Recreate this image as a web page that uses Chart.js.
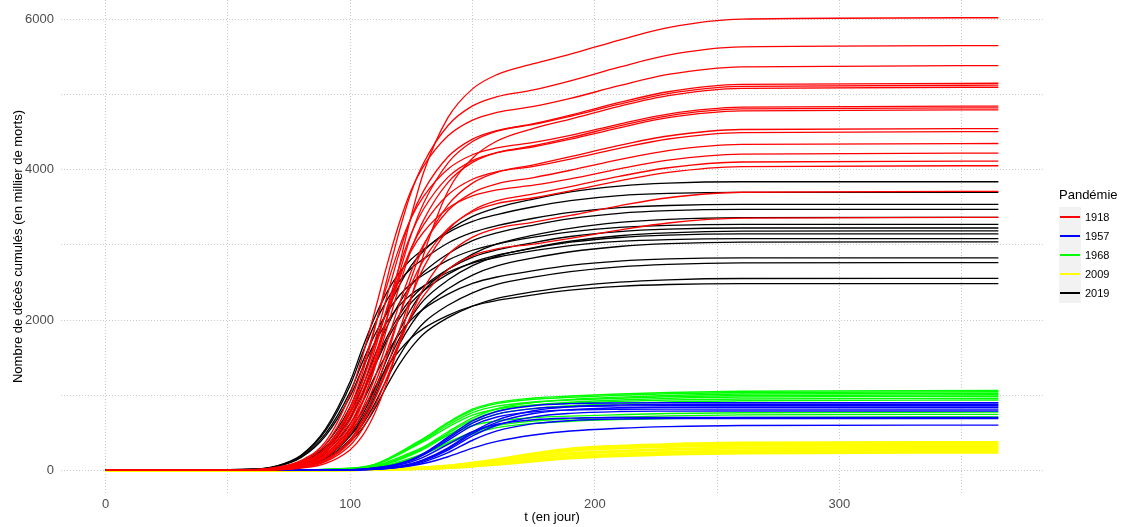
<!DOCTYPE html>
<html lang="fr">
<head>
<meta charset="utf-8">
<title>Nombre de décès cumulés par pandémie</title>
<script src="https://cdn.jsdelivr.net/npm/chart.js@4.4.1/dist/chart.umd.min.js"></script>
<style>
  html, body { margin: 0; padding: 0; background: #ffffff; }
  #wrap { position: relative; width: 1123px; height: 527px; font-family: 'Liberation Sans', Arial, sans-serif; }
  #chart { position: absolute; left: 0; top: 0; }
  #legend { position: absolute; left: 1059px; top: 186px; }
  #legend .title { font-size: 13px; line-height: 18px; height: 21px; color: #000; }
  #legend .row { display: flex; align-items: center; height: 19.2px; }
  #legend .key { width: 22px; height: 19.2px; background: #f2f2f2; position: relative; }
  #legend .key i { position: absolute; left: 1px; right: 1px; top: 8.6px; height: 2px; }
  #legend .lab { margin-left: 4px; font-size: 11px; color: #000; }
</style>
</head>
<body>
<div id="wrap">
  <canvas id="chart" width="1123" height="527"></canvas>
  <div id="legend"></div>
</div>
<script>
// Sampling days shared by every simulated trajectory
const DAYS = [0, 60, 70, 80, 90, 100, 105, 110, 115, 120, 125, 130, 140, 150, 160, 175, 190, 210, 230, 260, 365];

// Cumulative deaths (thousands), one row per simulated run
const DEATHS_1918 = [
  [0, 3, 16, 65, 190, 543, 896, 1385, 2009, 2715, 3394, 3964, 4697, 5077, 5267, 5412, 5538, 5727, 5893, 6006, 6024],
  [0, 7, 30, 104, 301, 838, 1295, 1880, 2540, 3175, 3708, 4090, 4590, 4850, 4973, 5063, 5184, 5366, 5526, 5635, 5652],
  [0, 9, 41, 134, 385, 1019, 1516, 2110, 2728, 3286, 3735, 4050, 4452, 4661, 4764, 4843, 4950, 5119, 5269, 5371, 5387],
  [0, 4, 19, 73, 218, 615, 974, 1450, 2018, 2610, 3144, 3555, 4093, 4376, 4515, 4613, 4728, 4896, 5039, 5137, 5152],
  [0, 5, 28, 94, 274, 762, 1178, 1709, 2310, 2888, 3373, 3720, 4173, 4408, 4522, 4604, 4712, 4873, 5015, 5111, 5126],
  [0, 1, 5, 28, 92, 275, 459, 757, 1170, 1698, 2295, 2869, 3718, 4154, 4383, 4552, 4674, 4845, 4987, 5084, 5099],
  [0, 8, 37, 121, 347, 918, 1366, 1901, 2458, 2961, 3365, 3646, 4011, 4200, 4292, 4364, 4458, 4609, 4742, 4833, 4847],
  [0, 4, 19, 68, 204, 576, 912, 1358, 1890, 2444, 2944, 3330, 3833, 4098, 4228, 4320, 4428, 4585, 4719, 4810, 4824],
  [0, 5, 26, 89, 255, 713, 1102, 1598, 2160, 2700, 3154, 3478, 3902, 4122, 4229, 4306, 4407, 4559, 4693, 4784, 4798],
  [0, 2, 10, 45, 142, 410, 677, 1046, 1517, 2050, 2563, 2982, 3534, 3823, 3966, 4066, 4174, 4325, 4450, 4536, 4549],
  [0, 5, 24, 83, 240, 670, 1035, 1502, 2030, 2538, 2964, 3268, 3667, 3874, 3974, 4046, 4142, 4285, 4410, 4496, 4509],
  [0, 4, 17, 61, 184, 519, 823, 1225, 1705, 2205, 2656, 3005, 3458, 3697, 3814, 3897, 3994, 4135, 4255, 4337, 4350],
  [0, 7, 32, 105, 302, 798, 1188, 1653, 2138, 2575, 2926, 3172, 3489, 3652, 3732, 3795, 3878, 4011, 4129, 4209, 4222],
  [0, 2, 9, 40, 128, 371, 612, 946, 1373, 1855, 2319, 2698, 3198, 3458, 3588, 3678, 3776, 3913, 4027, 4104, 4116],
  [0, 3, 15, 57, 171, 484, 767, 1141, 1588, 2053, 2473, 2797, 3220, 3442, 3551, 3628, 3720, 3852, 3965, 4042, 4054],
  [0, 2, 8, 37, 116, 333, 549, 849, 1232, 1665, 2081, 2421, 2870, 3104, 3221, 3303, 3393, 3521, 3628, 3701, 3712],
  [0, 2, 13, 47, 142, 401, 636, 947, 1318, 1704, 2053, 2323, 2674, 2858, 2948, 3012, 3088, 3198, 3292, 3356, 3366]
];

const DEATHS_1957 = [
  [0, 0, 0, 1, 3, 9, 16, 32, 54, 90, 144, 225, 441, 657, 783, 860, 887, 897, 900, 900, 900],
  [0, 0, 0, 0, 2, 5, 10, 18, 31, 53, 88, 141, 299, 510, 669, 792, 845, 871, 878, 880, 880],
  [0, 0, 0, 1, 3, 9, 15, 30, 52, 86, 138, 215, 421, 628, 748, 821, 847, 857, 860, 860, 860],
  [0, 0, 0, 0, 2, 5, 9, 17, 29, 50, 84, 134, 286, 487, 638, 756, 806, 832, 838, 840, 840],
  [0, 0, 0, 1, 2, 8, 15, 29, 49, 82, 130, 204, 399, 595, 709, 778, 803, 813, 815, 815, 815],
  [0, 0, 0, 0, 2, 5, 9, 16, 28, 47, 79, 126, 269, 458, 600, 711, 758, 782, 788, 790, 790],
  [0, 0, 0, 1, 2, 7, 13, 25, 42, 71, 113, 176, 345, 515, 613, 673, 694, 703, 705, 705, 705],
  [0, 0, 0, 0, 1, 4, 8, 14, 24, 41, 69, 110, 235, 400, 524, 621, 662, 683, 689, 690, 690],
  [0, 0, 0, 0, 1, 4, 7, 13, 24, 39, 60, 90, 181, 295, 385, 470, 524, 560, 581, 596, 602]
];

const DEATHS_1968 = [
  [0, 0, 1, 4, 11, 27, 43, 80, 149, 234, 330, 425, 638, 813, 904, 962, 989, 1015, 1036, 1052, 1063],
  [0, 0, 1, 4, 10, 26, 42, 78, 146, 230, 324, 418, 627, 799, 888, 946, 972, 998, 1019, 1035, 1045],
  [0, 0, 1, 3, 7, 17, 29, 51, 92, 154, 226, 308, 513, 697, 820, 902, 943, 974, 996, 1015, 1025],
  [0, 0, 1, 4, 10, 25, 40, 75, 141, 221, 312, 402, 603, 769, 854, 910, 935, 960, 980, 995, 1005],
  [0, 0, 1, 3, 7, 17, 28, 49, 89, 148, 217, 296, 493, 670, 788, 867, 906, 936, 957, 975, 985],
  [0, 0, 1, 4, 10, 24, 38, 72, 134, 211, 298, 384, 576, 734, 816, 869, 893, 917, 936, 950, 960],
  [0, 0, 1, 3, 7, 16, 26, 47, 84, 140, 206, 281, 468, 636, 748, 823, 860, 888, 909, 926, 935],
  [0, 0, 1, 3, 8, 19, 31, 58, 109, 171, 240, 310, 465, 593, 659, 701, 721, 740, 756, 767, 775],
  [0, 0, 1, 2, 5, 13, 21, 37, 67, 112, 164, 224, 373, 507, 596, 656, 685, 708, 724, 738, 745],
  [0, 0, 1, 2, 5, 12, 20, 36, 64, 107, 156, 213, 355, 483, 568, 625, 653, 675, 690, 703, 710]
];

const DEATHS_2009 = [
  [0, 0, 0, 1, 3, 7, 9, 13, 18, 24, 32, 41, 64, 102, 147, 226, 290, 327, 350, 368, 376],
  [0, 0, 0, 1, 3, 6, 9, 12, 17, 23, 30, 39, 61, 96, 139, 214, 274, 310, 331, 349, 356],
  [0, 0, 0, 1, 3, 6, 8, 12, 16, 22, 29, 37, 57, 91, 131, 202, 259, 292, 312, 329, 336],
  [0, 0, 0, 1, 2, 4, 5, 8, 10, 14, 19, 25, 41, 66, 101, 158, 212, 253, 281, 303, 316],
  [0, 0, 0, 1, 2, 5, 7, 10, 14, 19, 25, 33, 50, 80, 115, 178, 228, 258, 275, 290, 296],
  [0, 0, 0, 1, 1, 3, 5, 7, 9, 12, 17, 22, 36, 58, 88, 138, 185, 221, 246, 265, 276],
  [0, 0, 0, 1, 1, 3, 4, 6, 8, 12, 15, 20, 33, 54, 82, 128, 172, 205, 228, 246, 256],
  [0, 0, 0, 0, 1, 3, 4, 6, 8, 11, 14, 19, 31, 49, 75, 118, 157, 188, 209, 226, 235]
];

const DEATHS_2019 = [
  [0, 8, 31, 115, 346, 845, 1229, 1690, 2113, 2458, 2727, 2919, 3188, 3380, 3495, 3611, 3707, 3783, 3822, 3841, 3841],
  [0, 15, 59, 204, 555, 1184, 1628, 2035, 2368, 2627, 2812, 2942, 3164, 3312, 3404, 3508, 3589, 3656, 3685, 3700, 3700],
  [0, 14, 57, 195, 531, 1132, 1557, 1946, 2265, 2513, 2690, 2814, 3026, 3167, 3256, 3355, 3433, 3497, 3525, 3539, 3539],
  [0, 7, 28, 104, 313, 764, 1111, 1528, 1910, 2223, 2466, 2639, 2883, 3056, 3160, 3265, 3351, 3421, 3456, 3473, 3473],
  [0, 3, 13, 54, 185, 505, 741, 1077, 1481, 1851, 2154, 2390, 2676, 2878, 3013, 3130, 3221, 3299, 3339, 3363, 3366],
  [0, 13, 52, 180, 491, 1047, 1440, 1800, 2095, 2324, 2487, 2602, 2798, 2929, 3011, 3103, 3175, 3234, 3260, 3273, 3273],
  [0, 6, 26, 97, 290, 710, 1032, 1419, 1774, 2064, 2290, 2451, 2677, 2838, 2935, 3032, 3112, 3177, 3209, 3225, 3225],
  [0, 3, 13, 51, 175, 478, 701, 1020, 1402, 1752, 2039, 2262, 2533, 2724, 2851, 2963, 3049, 3122, 3161, 3183, 3186],
  [0, 6, 25, 94, 283, 692, 1007, 1384, 1730, 2013, 2234, 2391, 2611, 2768, 2863, 2957, 3036, 3099, 3130, 3146, 3146],
  [0, 12, 49, 170, 462, 987, 1357, 1696, 1973, 2189, 2343, 2451, 2636, 2759, 2836, 2923, 2991, 3046, 3071, 3083, 3083],
  [0, 3, 12, 49, 167, 456, 669, 973, 1338, 1672, 1946, 2158, 2417, 2599, 2721, 2827, 2909, 2979, 3016, 3037, 3040],
  [0, 6, 23, 85, 254, 622, 905, 1244, 1555, 1809, 2007, 2149, 2346, 2488, 2573, 2657, 2728, 2785, 2813, 2827, 2827],
  [0, 3, 11, 44, 152, 415, 608, 884, 1216, 1520, 1769, 1962, 2197, 2363, 2474, 2571, 2645, 2709, 2742, 2761, 2764],
  [0, 3, 10, 41, 141, 383, 562, 818, 1125, 1406, 1636, 1815, 2032, 2185, 2288, 2377, 2446, 2505, 2536, 2553, 2556],
  [0, 5, 20, 75, 224, 547, 795, 1093, 1367, 1590, 1764, 1889, 2063, 2187, 2261, 2336, 2398, 2448, 2473, 2485, 2485]
];

const PANDEMICS = ['1918', '1957', '1968', '2009', '2019'];
// Grid positions (major and minor) and the subset that carries a label
const X_GRID = [0, 50, 100, 150, 200, 250, 300, 350];
const Y_GRID = [0, 1000, 2000, 3000, 4000, 5000, 6000];
const X_TICKS = [0, 100, 200, 300];
const Y_TICKS = [0, 2000, 4000, 6000];

const RUNS = { '1918': DEATHS_1918, '1957': DEATHS_1957, '1968': DEATHS_1968, '2009': DEATHS_2009, '2019': DEATHS_2019 };
const LINE_COLOURS = { '1918': '#ff0000', '1957': '#0000ff', '1968': '#00ff00', '2009': '#ffff00', '2019': '#000000' };
const LINE_WIDTHS = { '1918': 1.3, '1957': 1.4, '1968': 1.4, '2009': 2.2, '2019': 1.3 };
// Chart.js paints dataset 0 last, so the first group listed ends up on top
const PAINT_ORDER = ['1918', '2019', '1957', '1968', '2009'];

const FONT = "'Liberation Sans', Arial, sans-serif";
Chart.defaults.font.family = FONT;

const datasets = [];
PAINT_ORDER.forEach(function (year) {
  RUNS[year].forEach(function (run, k) {
    datasets.push({
      label: year + ' #' + (k + 1),
      data: run.map(function (v, i) { return { x: DAYS[i], y: v }; }),
      borderColor: LINE_COLOURS[year],
      borderWidth: LINE_WIDTHS[year],
      pointRadius: 0,
      fill: false,
      cubicInterpolationMode: 'monotone'
    });
  });
});

const gridStyle = { color: '#c9c9c9', lineWidth: 1, drawTicks: false };
const tickFont = { family: FONT, size: 13 };

function fixedTicks(list) {
  return function (scale) { scale.ticks = list.map(function (v) { return { value: v }; }); };
}

new Chart(document.getElementById('chart'), {
  type: 'line',
  data: { datasets: datasets },
  options: {
    responsive: false,
    devicePixelRatio: 1,
    animation: false,
    events: [],
    layout: { padding: { left: 0, right: 80, top: 0, bottom: 0 } },
    plugins: { legend: { display: false }, tooltip: { enabled: false } },
    scales: {
      x: {
        type: 'linear',
        min: -18.25,
        max: 383.25,
        grid: gridStyle,
        border: { display: false, dash: [1, 2] },
        afterBuildTicks: fixedTicks(X_GRID),
        ticks: {
          maxRotation: 0,
          autoSkip: false,
          padding: 4,
          color: '#4d4d4d',
          font: tickFont,
          callback: function (v) { return X_TICKS.indexOf(v) >= 0 ? String(v) : ''; }
        },
        title: { display: true, text: 't (en jour)', color: '#000', font: { family: FONT, size: 13 }, padding: { top: 0, bottom: 2 } },
        afterFit: function (scale) {
          scale.height = 34;
          scale.paddingLeft = 0; scale.paddingRight = 0;
        }
      },
      y: {
        type: 'linear',
        min: -302,
        max: 6260,
        grid: gridStyle,
        border: { display: false, dash: [1, 2] },
        afterBuildTicks: fixedTicks(Y_GRID),
        ticks: {
          autoSkip: false,
          padding: 7,
          color: '#4d4d4d',
          font: tickFont,
          callback: function (v) { return Y_TICKS.indexOf(v) >= 0 ? String(v) : ''; }
        },
        title: { display: true, text: 'Nombre de décès cumulés (en millier de morts)', color: '#000', font: { family: FONT, size: 13 }, padding: { top: 11, bottom: 0 } },
        afterFit: function (scale) {
          scale.width = 61;
          scale.paddingTop = 0; scale.paddingBottom = 0;
        }
      }
    }
  }
});

// Legend: one key per pandemic
const legend = document.getElementById('legend');
const head = document.createElement('div');
head.className = 'title';
head.textContent = 'Pandémie';
legend.appendChild(head);
PANDEMICS.forEach(function (year) {
  const row = document.createElement('div');
  row.className = 'row';
  const key = document.createElement('span');
  key.className = 'key';
  const line = document.createElement('i');
  line.style.background = LINE_COLOURS[year];
  key.appendChild(line);
  const lab = document.createElement('span');
  lab.className = 'lab';
  lab.textContent = year;
  row.appendChild(key);
  row.appendChild(lab);
  legend.appendChild(row);
});
</script>
</body>
</html>
